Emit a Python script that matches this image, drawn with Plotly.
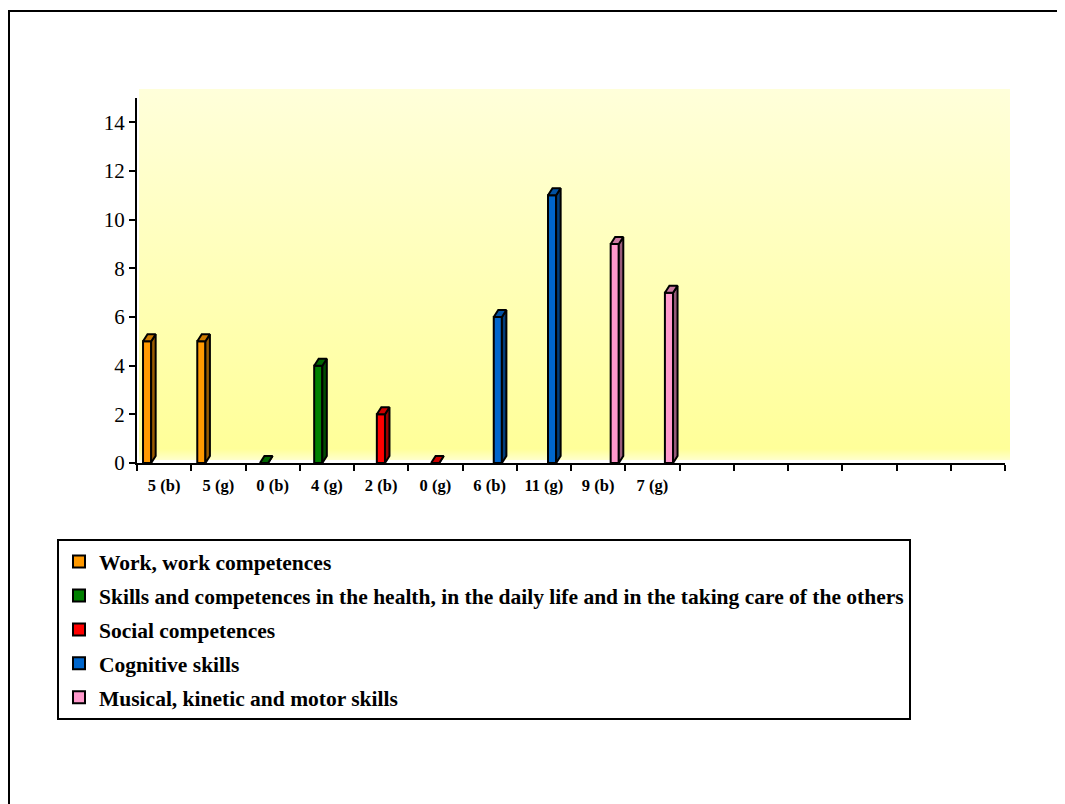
import base64
import plotly.graph_objects as go

# ---------------- data ----------------
categories = ["5 (b)", "5 (g)", "0 (b)", "4 (g)", "2 (b)", "0 (g)",
              "6 (b)", "11 (g)", "9 (b)", "7 (g)", "", "", "", "", "", ""]

series_names = [
    "Work, work competences",
    "Skills and competences in the health, in the daily life and in the taking care of the others",
    "Social competences",
    "Cognitive skills",
    "Musical, kinetic and motor skills",
]

work_values = [5, 5, None, None, None, None, None, None, None, None]
health_values = [None, None, 0, 4, None, None, None, None, None, None]
social_values = [None, None, None, None, 2, 0, None, None, None, None]
cognitive_values = [None, None, None, None, None, None, 6, 11, None, None]
musical_values = [None, None, None, None, None, None, None, None, 9, 7]

series_values = [work_values, health_values, social_values, cognitive_values, musical_values]
series_colors = ["#FF9900", "#008000", "#FF0000", "#0066CC", "#FF99CC"]

y_ticks = [0, 2, 4, 6, 8, 10, 12, 14]

# ---------------- geometry / style ----------------
OFF = 8                      # page body margin
W, H = 1065 - OFF, 804 - OFF
PL, PR, PT, PB = 137, 1005, 98, 463   # plot area in page pixels
L, T = PL - OFF, PT - OFF
PW, PH = PR - PL, PB - PT
R, B = W - L - PW, H - T - PH
N = len(categories)
y_max = 15

slot = 0.155          # horizontal step between series inside a category
first_off = -0.389    # offset of the first series' front face
front_w = 0.15        # front face width (category units)
dx = 4.5 / (PW / N)   # 3D depth in x (category units)
dy = 7.0 / (PH / y_max)  # 3D depth in y (value units)


def shade(hex_color, f):
    h = hex_color.lstrip("#")
    r, g, b = (int(h[i:i + 2], 16) for i in (0, 2, 4))
    return "#%02X%02X%02X" % (int(r * f), int(g * f), int(b * f))


fig = go.Figure()

for i, (name, vals, col) in enumerate(zip(series_names, series_values, series_colors)):
    off = first_off + i * slot
    xs = [k for k, v in enumerate(vals) if v is not None]
    ys = [v for v in vals if v is not None]
    for x, v in zip(xs, ys):
        x0 = x + off
        x1 = x0 + front_w
        side_x = [x1, x1 + dx, x1 + dx, x1, x1]
        side_y = [0, dy, v + dy, v, 0]
        fig.add_trace(go.Scatter(
            x=side_x, y=side_y, mode="lines", fill="toself",
            fillcolor=shade(col, 0.6), line=dict(color="black", width=2),
            showlegend=False, hoverinfo="skip"))
        top_x = [x0, x1, x1 + dx, x0 + dx, x0]
        top_y = [v, v, v + dy, v + dy, v]
        fig.add_trace(go.Scatter(
            x=top_x, y=top_y, mode="lines", fill="toself",
            fillcolor=shade(col, 0.8), line=dict(color="black", width=2),
            showlegend=False, hoverinfo="skip"))
    fig.add_trace(go.Bar(
        x=xs, y=ys, name=name, offset=off, width=front_w,
        marker=dict(color=col, line=dict(color="black", width=2)),
        legendgroup="g%d" % i, legendrank=i + 1))

svg = ('<svg xmlns="http://www.w3.org/2000/svg" width="100" height="100" '
       'preserveAspectRatio="none"><defs><linearGradient id="g" x1="0" y1="0" x2="0" y2="1">'
       '<stop offset="0" stop-color="#FFFFDA"/><stop offset="0.97" stop-color="#FFFF99"/>'
       '<stop offset="1" stop-color="#FFFFCC"/></linearGradient></defs>'
       '<rect width="100" height="100" fill="url(#g)"/></svg>')
bg_src = "data:image/svg+xml;base64," + base64.b64encode(svg.encode()).decode()


def px_x(p):  # page pixel -> paper x
    return (p - PL) / PW


def px_y(p):  # page pixel -> paper y
    return (PB - p) / PH


fig.update_layout(
    width=W, height=H,
    margin=dict(l=L, r=R, t=T, b=B, pad=0),
    paper_bgcolor="white",
    plot_bgcolor="rgba(0,0,0,0)",
    barmode="overlay",
    font=dict(family="Liberation Serif, Times New Roman, serif", color="black"),
    images=[dict(source=bg_src, xref="paper", yref="paper",
                 x=px_x(139), y=px_y(89), sizex=px_x(1010) - px_x(139),
                 sizey=px_y(89) - px_y(460), sizing="stretch", layer="below")],
    shapes=[dict(type="rect", xref="paper", yref="paper",
                 x0=px_x(9), y0=px_y(11), x1=px_x(1090), y1=px_y(830),
                 line=dict(color="black", width=2), fillcolor="rgba(0,0,0,0)")],
    legend=dict(
        x=px_x(57), y=px_y(539), xanchor="left", yanchor="top",
        bordercolor="black", borderwidth=2, bgcolor="white",
        font=dict(family="Liberation Serif, Times New Roman, serif", size=21.5,
                  color="black", weight="bold"),
        itemwidth=30, tracegroupgap=3, traceorder="grouped",
    ),
    showlegend=True,
)

fig.update_xaxes(
    range=[-0.5, N - 0.5], showgrid=False, zeroline=False,
    showline=True, linecolor="black", linewidth=2,
    tickmode="array", tickvals=list(range(N)), ticktext=categories, ticks="",
    tickfont=dict(size=16.5, weight="bold"), ticklabelstandoff=6,
    minor=dict(tickmode="array", tickvals=[k - 0.5 for k in range(N + 1)],
               ticks="outside", ticklen=6, tickwidth=2, tickcolor="black"),
)
fig.update_yaxes(
    range=[0, y_max], showgrid=False, zeroline=False,
    showline=True, linecolor="black", linewidth=2,
    tickmode="array", tickvals=y_ticks, ticks="outside", ticklen=6,
    tickwidth=2, tickcolor="black", tickfont=dict(size=21),
)

fig.write_html("out.html")
